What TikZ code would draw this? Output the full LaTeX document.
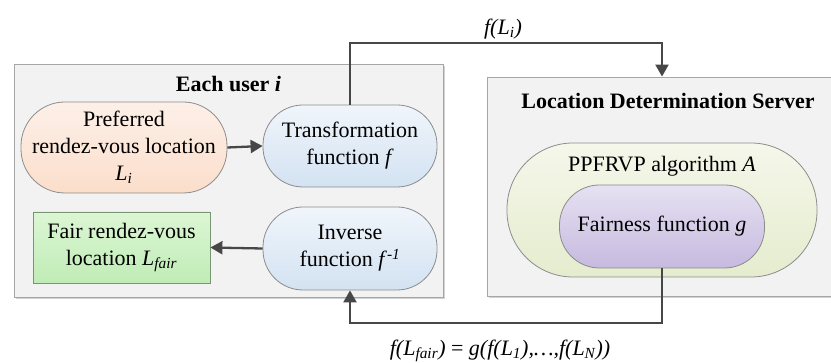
\documentclass[tikz,border=0pt]{standalone}
\usepackage{fontspec}
\setmainfont{Liberation Serif}
\usetikzlibrary{arrows.meta,shadows,calc}
\definecolor{boxfill}{HTML}{F2F2F2}
\definecolor{boxdraw}{HTML}{A6A6A6}
\definecolor{nodedraw}{HTML}{8C8C8C}
\definecolor{linec}{HTML}{474747}
\definecolor{peachT}{HTML}{FDF0E8}
\definecolor{peachB}{HTML}{FBDECB}
\definecolor{blueT}{HTML}{F0F5FB}
\definecolor{blueB}{HTML}{D3E2F2}
\definecolor{greenT}{HTML}{DCF6D4}
\definecolor{greenB}{HTML}{C0ECB6}
\definecolor{greenD}{HTML}{789673}
\definecolor{ppfT}{HTML}{F5F7EA}
\definecolor{ppfB}{HTML}{E5ECCE}
\definecolor{purpT}{HTML}{E6E1F2}
\definecolor{purpB}{HTML}{C6BADF}
\begin{document}
\begin{tikzpicture}[x=1pt,y=-1pt,
  every node/.style={font=\fontsize{22}{27}\selectfont, align=center, inner sep=0pt},
  bigbox/.style={draw=boxdraw, line width=0.9pt, fill=boxfill,
     drop shadow={shadow xshift=1.5pt, shadow yshift=-2pt, opacity=0.35, fill=gray}},
  pill/.style={draw=nodedraw, line width=0.8pt},
  peach/.style={pill, top color=peachT, bottom color=peachB},
  bluish/.style={pill, top color=blueT, bottom color=blueB},
  greenbox/.style={draw=greenD, line width=0.8pt, top color=greenT, bottom color=greenB},
  ppfc/.style={pill, top color=ppfT, bottom color=ppfB},
  purp/.style={pill, top color=purpT, bottom color=purpB},
  arr/.style={draw=linec, line width=2.3pt, -{Triangle[length=12pt,width=13pt]}}]
\useasboundingbox (0,0) rectangle (831,363);
\clip (0,0) rectangle (831,363);
\fill[white] (0,0) rectangle (831,363);

% big boxes
\node[bigbox, minimum width=429pt, minimum height=233pt] (user) at (228.5,180.5) {};
\node[bigbox, minimum width=363pt, minimum height=219pt] (srv) at (668.5,186.5) {};
\node (usert) at (228.5,84) {\bfseries Each user \textit{i}};
\node (srvt) at (668,101) {\bfseries Location Determination Server};

% user side nodes
\node[peach, rounded corners=44pt, minimum width=206pt, minimum height=91pt] (pref) at (124,147.5)
  {Preferred\\rendez-vous location\\\textit{L\textsubscript{i}}};
\node[bluish, rounded corners=40pt, minimum width=174pt, minimum height=82pt] (trans) at (350,146)
  {Transformation\\function \textit{f}};
\node[bluish, rounded corners=40pt, minimum width=174pt, minimum height=83pt] (inv) at (350,248.5)
  {Inverse\\function \textit{f}\textsuperscript{\textit{-1}}};
\node[greenbox, minimum width=177pt, minimum height=71pt] (fair) at (121.5,247.5)
  {Fair rendez-vous\\location \textit{L\textsubscript{fair}}};

% server side nodes
\node[ppfc, rounded corners=66pt, minimum width=310pt, minimum height=134pt] (ppf) at (662,210) {};
\node (ppft) at (662,166) {PPFRVP algorithm \textit{A}};
\node[purp, rounded corners=40pt, minimum width=205pt, minimum height=83pt] (fairn) at (662,226.5)
  {Fairness function \textit{g}};

% connectors
\coordinate (ytop) at (0,43);
\coordinate (ybot) at (0,323);
\draw[arr] (pref.east) -- (trans.west);
\draw[arr] (inv.west) -- (fair.east);
\draw[arr] (trans.north) |- (ytop -| ppf) -- (ppf |- srv.north);
\draw[arr] (fairn.south) |- (ybot -| inv) -- (inv.south);

% labels
\node (lab1) at (503,29) {\textit{f(L\textsubscript{i})}};
\node (lab2) at (500,351) {\textit{f(L\textsubscript{fair})} = \textit{g(f(L\textsubscript{1}),…,f(L\textsubscript{N}))}};
\end{tikzpicture}
\end{document}
